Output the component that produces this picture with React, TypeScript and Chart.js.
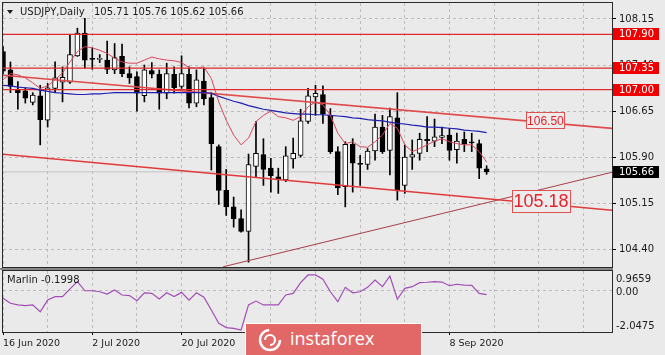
import React, { useEffect, useRef } from 'react';
import { Chart, registerables } from 'chart.js';

Chart.register(...registerables);

// ---------- data ----------
const opens = [107.62,107.32,107.00,106.98,106.79,106.90,106.50,107.02,107.12,107.12,107.55,107.92,107.51,107.49,107.48,107.32,107.54,107.26,107.21,106.90,107.31,107.25,106.94,107.25,107.05,107.25,106.78,107.14,106.87,106.07,105.36,105.09,104.90,104.69,105.75,105.94,105.72,105.58,105.53,105.87,105.93,106.48,106.88,106.92,106.58,105.99,105.42,106.11,105.80,105.78,106.00,106.39,106.01,106.54,105.44,105.90,105.96,106.19,106.16,106.22,106.26,106.02,106.19,106.15,106.12,105.71];
const highs = [107.70,107.45,107.13,107.03,106.95,107.07,107.10,107.45,107.37,107.89,108.00,108.16,107.68,107.57,107.79,107.75,107.74,107.37,107.29,107.40,107.44,107.32,107.43,107.37,107.55,107.37,107.32,107.35,106.95,106.10,105.70,105.25,105.04,105.95,106.48,106.20,105.88,105.72,106.07,106.21,106.68,107.02,107.07,107.06,106.69,106.07,106.15,106.20,105.93,106.04,106.60,106.58,106.70,106.95,106.10,106.18,106.29,106.56,106.52,106.39,106.37,106.29,106.31,106.29,106.18,105.76];
const lows = [107.25,106.95,106.68,106.78,106.75,106.10,106.39,106.95,106.80,107.10,107.54,107.35,107.33,107.44,107.26,107.26,107.21,107.10,106.65,106.80,107.19,106.68,106.85,106.94,107.02,106.70,106.72,106.75,105.69,105.13,104.95,104.76,104.68,104.19,105.58,105.44,105.33,105.31,105.50,105.72,105.90,106.45,106.58,106.45,105.96,105.29,105.09,105.33,105.44,105.70,105.85,105.96,105.61,105.20,105.31,105.70,105.85,105.99,106.07,106.12,105.85,105.80,105.99,105.99,105.55,105.62];
const closes = [107.30,107.05,106.95,106.86,106.91,106.51,107.03,107.19,107.20,107.57,107.92,107.48,107.49,107.51,107.33,107.52,107.26,107.19,106.94,107.32,107.25,106.94,107.26,107.03,107.26,106.78,107.16,106.85,106.12,105.36,105.09,104.90,104.69,105.78,105.96,105.70,105.60,105.54,105.92,105.96,106.49,106.90,106.94,106.60,105.99,105.40,106.11,105.80,105.78,106.00,106.39,105.99,106.56,105.35,105.90,105.94,106.19,106.17,106.23,106.25,106.01,106.16,106.11,106.13,105.72,105.66];

const maFast = [107.16,107.26,107.24,107.19,107.11,107.02,107.06,107.16,107.27,107.45,107.62,107.70,107.68,107.64,107.59,107.51,107.45,107.43,107.43,107.48,107.53,107.50,107.48,107.47,107.44,107.36,107.35,107.37,107.18,106.80,106.50,106.26,106.10,106.21,106.48,106.58,106.65,106.56,106.54,106.50,106.56,106.72,106.80,106.75,106.58,106.29,106.12,106.15,106.07,106.06,106.15,106.26,106.45,106.37,106.10,105.99,106.04,106.10,106.16,106.20,106.15,106.12,106.10,106.10,105.99,105.82];
const maSlow = [107.07,107.06,107.04,107.03,107.02,106.99,106.97,106.95,106.94,106.93,106.92,106.92,106.93,106.93,106.94,106.95,106.95,106.95,106.95,106.95,106.95,106.95,106.95,106.95,106.95,106.95,106.95,106.95,106.94,106.89,106.85,106.81,106.78,106.74,106.71,106.68,106.66,106.64,106.62,106.61,106.60,106.60,106.59,106.59,106.58,106.57,106.56,106.54,106.53,106.51,106.50,106.49,106.47,106.45,106.44,106.42,106.41,106.39,106.39,106.38,106.37,106.36,106.34,106.33,106.32,106.30];

const marlin = [-0.38,-0.63,-0.71,-0.74,-0.71,-1.05,-0.47,-0.30,-0.30,0.08,0.44,-0.01,-0.01,-0.06,-0.17,0.03,-0.22,-0.25,-0.50,-0.11,-0.14,-0.42,-0.11,-0.30,-0.09,-0.47,-0.11,-0.33,-0.96,-1.62,-1.83,-1.87,-1.95,-0.71,-0.52,-0.71,-0.71,-0.71,-0.22,-0.14,0.39,0.77,0.77,0.56,-0.06,-0.55,0.16,-0.11,-0.06,0.16,0.52,0.19,0.72,-0.43,0.11,0.19,0.39,0.41,0.44,0.42,0.24,0.31,0.27,0.26,-0.14,-0.1998];
const marlinValue = -0.1998;
const marlinMax = 0.9659;
const marlinMin = -2.0475;

const levels = [107.90, 107.35, 107.00];
const bidPrice = 105.66;
const priceTicks = [108.15, 107.40, 106.65, 105.90, 105.15, 104.40];
const priceMin = 104.111;
const priceMax = 108.41;

const gridIndex = [0, 6, 12, 18, 24, 30, 36, 42, 48, 54, 60, 66, 72, 78];
const dateTickIndex = [0, 12, 24, 36, 48, 60];
const dateTickLabels = ['16 Jun 2020', '2 Jul 2020', '20 Jul 2020', '5 Aug 2020', '21 Aug 2020', '8 Sep 2020'];
const X_MAX = 81.85;

const trendUpper = [{ x: 0, y: 107.233 }, { x: X_MAX, y: 106.368 }];
const trendLower = [{ x: 0, y: 105.947 }, { x: X_MAX, y: 105.034 }];
const trendRising = [{ x: 29.6, y: 104.116 }, { x: X_MAX, y: 105.655 }];

const noteUpperPrice = 106.50;
const noteUpperIndex = 72.9;
const noteCrossPrice = 105.18;
const noteCrossIndex = 72.3;

const symbolTitle = 'USDJPY,Daily';
const ohlcTitle = '105.71 105.76 105.62 105.66';

// ---------- styles ----------
const BG = '#eaeaea';
const GRID = '#bdbdbd';
const FRAME = '#2a2a2a';
const TEXT = '#1a1a1a';
const FONT = '"DejaVu Sans", sans-serif';

const mainDecor = {
  id: 'mainDecor',
  beforeDraw(chart: any) {
    const { ctx, width, height } = chart;
    ctx.save();
    ctx.fillStyle = BG;
    ctx.fillRect(0, 0, width, height);
    ctx.restore();
  },
  afterDraw(chart: any) {
    const { ctx, chartArea: a } = chart;
    const xs = chart.scales.x;
    const ys = chart.scales.y;
    ctx.save();
    ctx.strokeStyle = FRAME;
    ctx.lineWidth = 1;
    ctx.strokeRect(a.left - 0.5, a.top - 0.5, a.right - a.left + 1, a.bottom - a.top + 1);
    ctx.fillStyle = TEXT;
    ctx.beginPath();
    ctx.moveTo(7, 10);
    ctx.lineTo(13, 10);
    ctx.lineTo(10, 14);
    ctx.closePath();
    ctx.fill();
    ctx.font = '10px ' + FONT;
    ctx.textBaseline = 'middle';
    ctx.textAlign = 'left';
    ctx.fillText(symbolTitle, 20, 12);
    ctx.fillText(ohlcTitle, 94, 12);
    levels.forEach((v) => {
      const yy = Math.round(ys.getPixelForValue(v));
      ctx.fillStyle = '#f00000';
      ctx.fillRect(a.right + 1, yy - 6, 46, 12);
      ctx.fillStyle = '#ffffff';
      ctx.fillText(v.toFixed(2), a.right + 7, yy);
    });
    const by = Math.round(ys.getPixelForValue(bidPrice));
    ctx.fillStyle = '#000000';
    ctx.fillRect(a.right + 1, by - 6, 46, 12);
    ctx.fillStyle = '#ffffff';
    ctx.fillText(bidPrice.toFixed(2), a.right + 7, by);
    const box = (cx: number, cy: number, w: number, h: number, text: string, font: string) => {
      ctx.fillStyle = '#ececec';
      ctx.fillRect(Math.round(cx - w / 2), Math.round(cy - h / 2), w, h);
      ctx.strokeStyle = '#e05252';
      ctx.lineWidth = 1;
      ctx.strokeRect(Math.round(cx - w / 2) + 0.5, Math.round(cy - h / 2) + 0.5, w, h);
      ctx.fillStyle = '#e8202a';
      ctx.font = font;
      ctx.textAlign = 'center';
      ctx.textBaseline = 'middle';
      ctx.fillText(text, cx, cy + 1);
    };
    box(xs.getPixelForValue(noteUpperIndex), ys.getPixelForValue(noteUpperPrice), 38, 16,
      noteUpperPrice.toFixed(2), '12px "Liberation Sans", sans-serif');
    box(xs.getPixelForValue(noteCrossIndex), ys.getPixelForValue(noteCrossPrice), 58, 22,
      noteCrossPrice.toFixed(2), '18px "Liberation Sans", sans-serif');
    ctx.restore();
  },
};

const subDecor = {
  id: 'subDecor',
  beforeDraw(chart: any) {
    const { ctx, width, height } = chart;
    ctx.save();
    ctx.fillStyle = BG;
    ctx.fillRect(0, 0, width, height);
    ctx.fillStyle = '#858585';
    ctx.fillRect(0, 0, 613, 2);
    ctx.restore();
  },
  afterDraw(chart: any) {
    const { ctx, chartArea: a } = chart;
    const ys = chart.scales.y;
    ctx.save();
    ctx.strokeStyle = FRAME;
    ctx.lineWidth = 1;
    ctx.strokeRect(a.left - 0.5, a.top - 0.5, a.right - a.left + 1, a.bottom - a.top + 1);
    ctx.fillStyle = TEXT;
    ctx.font = '10px ' + FONT;
    ctx.textAlign = 'left';
    ctx.textBaseline = 'middle';
    ctx.fillText(marlinMax.toFixed(4), a.right + 4, a.top + 8);
    ctx.fillText((0).toFixed(2), a.right + 4, ys.getPixelForValue(0) + 1.5);
    ctx.fillText(marlinMin.toFixed(4), a.right + 4, a.bottom - 6);
    ctx.fillText('Marlin ' + marlinValue.toFixed(4), a.left + 4, a.top + 9);
    ctx.restore();
  },
};

const lineDs = (data: any[], color: string, width: number, order = 0) => ({
  type: 'line',
  data,
  borderColor: color,
  borderWidth: width,
  pointRadius: 0,
  tension: 0,
  fill: false,
  order,
});

export default function App() {
  const mainRef = useRef<HTMLCanvasElement>(null);
  const subRef = useRef<HTMLCanvasElement>(null);

  useEffect(() => {
    const main = new Chart(mainRef.current as HTMLCanvasElement, {
      type: 'bar',
      data: {
        datasets: [
          lineDs(maFast.map((v, i) => ({ x: i, y: v })), '#d8485c', 1),
          lineDs(maSlow.map((v, i) => ({ x: i, y: v })), '#1f1fb0', 1.2),
          ...levels.map((v) => lineDs([{ x: 0, y: v }, { x: X_MAX, y: v }], '#e02a2e', 1.2)),
          lineDs([{ x: 0, y: bidPrice }, { x: X_MAX, y: bidPrice }], '#c2c2c2', 1, 3),
          lineDs(trendUpper, '#e04a4a', 1.6),
          lineDs(trendLower, '#e03a3a', 1.4),
          lineDs(trendRising, '#a8434c', 1.1),
          {
            type: 'bar',
            data: opens.map((o, i) => ({ x: i, y: [o, closes[i]] })),
            backgroundColor: opens.map((o, i) => (closes[i] >= o ? '#ffffff' : '#000000')),
            borderColor: '#000000',
            borderWidth: 1,
            borderSkipped: false,
            barThickness: 5,
            grouped: false,
            minBarLength: 1,
            order: 1,
          },
          {
            type: 'bar',
            data: lows.map((l, i) => ({ x: i, y: [l, highs[i]] })),
            backgroundColor: '#000000',
            borderWidth: 0,
            barThickness: 1,
            grouped: false,
            order: 2,
          },
        ] as any,
      },
      options: {
        responsive: false,
        animation: false,
        events: [],
        plugins: { legend: { display: false }, tooltip: { enabled: false } },
        layout: { padding: { left: 3, top: 3, right: 0, bottom: 1 } },
        scales: {
          x: {
            type: 'linear',
            min: 0,
            max: X_MAX,
            offset: false,
            grid: { color: GRID, lineWidth: 1, drawTicks: false, offset: false },
            border: { display: false, dash: [3, 3] },
            ticks: { display: false },
            afterBuildTicks: (s: any) => { s.ticks = gridIndex.map((v) => ({ value: v })); },
            afterFit: (s: any) => { s.height = 0; s.paddingLeft = 0; s.paddingRight = 0; },
          },
          y: {
            type: 'linear',
            position: 'right',
            min: priceMin,
            max: priceMax,
            grid: { color: GRID, lineWidth: 1, tickColor: '#000000', tickLength: 4, tickBorderDash: [] },
            border: { display: false, dash: [3, 3] },
            ticks: {
              padding: 3,
              color: TEXT,
              font: { family: 'DejaVu Sans', size: 10 },
              callback: (v: any) => Number(v).toFixed(2),
            },
            afterBuildTicks: (s: any) => { s.ticks = priceTicks.map((v) => ({ value: v })); },
            afterFit: (s: any) => { s.width = 53; s.paddingTop = 0; s.paddingBottom = 0; },
          },
        },
      } as any,
      plugins: [mainDecor],
    });

    const sub = new Chart(subRef.current as HTMLCanvasElement, {
      type: 'line',
      data: {
        datasets: [
          {
            data: marlin.map((v, i) => ({ x: i, y: v })),
            borderColor: '#a24db6',
            borderWidth: 1.2,
            pointRadius: 0,
            tension: 0,
            fill: false,
          },
        ],
      },
      options: {
        responsive: false,
        animation: false,
        events: [],
        plugins: { legend: { display: false }, tooltip: { enabled: false } },
        layout: { padding: { left: 3, top: 3, right: 0, bottom: 0 } },
        scales: {
          x: {
            type: 'linear',
            min: 0,
            max: X_MAX,
            offset: false,
            grid: {
              color: GRID,
              lineWidth: 1,
              tickLength: 3,
              tickBorderDash: [],
              tickColor: (c: any) => (c.tick && dateTickIndex.includes(c.tick.value) ? '#000000' : 'rgba(0,0,0,0)'),
            },
            border: { display: false, dash: [3, 3] },
            ticks: {
              autoSkip: false,
              maxRotation: 0,
              minRotation: 0,
              align: 'start',
              padding: 3,
              color: TEXT,
              font: { family: 'DejaVu Sans', size: 9.5 },
              callback: (v: any) => {
                const k = dateTickIndex.indexOf(Number(v));
                return k >= 0 ? dateTickLabels[k] : '';
              },
            },
            afterBuildTicks: (s: any) => { s.ticks = gridIndex.map((v) => ({ value: v })); },
            afterFit: (s: any) => { s.height = 23; s.paddingLeft = 0; s.paddingRight = 0; },
          },
          y: {
            type: 'linear',
            position: 'right',
            min: marlinMin,
            max: marlinMax,
            grid: { color: GRID, lineWidth: 1, drawTicks: false },
            border: { display: false, dash: [3, 3] },
            ticks: { display: false },
            afterBuildTicks: (s: any) => { s.ticks = [{ value: 0 }]; },
            afterFit: (s: any) => { s.width = 53; s.paddingTop = 0; s.paddingBottom = 0; },
          },
        },
      } as any,
      plugins: [subDecor],
    });

    return () => {
      main.destroy();
      sub.destroy();
    };
  }, []);

  return (
    <div style={{ position: 'absolute', left: 0, top: 0, width: 665, height: 355, background: BG, overflow: 'hidden' }}>
      <canvas ref={mainRef} width={665} height={268} style={{ position: 'absolute', left: 0, top: 0 }} />
      <canvas ref={subRef} width={665} height={87} style={{ position: 'absolute', left: 0, top: 268 }} />
      <div
        style={{
          position: 'absolute',
          left: 245,
          top: 323,
          width: 177,
          height: 34,
          background: '#e26868',
          border: '1px solid #ffffff',
          boxSizing: 'border-box',
        }}
      >
        <svg width="26" height="26" viewBox="0 0 26 26" style={{ position: 'absolute', left: 11, top: 3 }}>
          <circle cx="13" cy="13" r="10" fill="none" stroke="#ffffff" strokeWidth="2.5" strokeDasharray="46 17" />
          <path d="M8 13 a5 5 0 1 1 5 5" fill="none" stroke="#ffffff" strokeWidth="2.2" />
        </svg>
        <div
          style={{
            position: 'absolute',
            left: 44,
            top: 2,
            color: '#ffffff',
            fontFamily: '"Open Sans", sans-serif',
            fontSize: 18,
            lineHeight: '24px',
            whiteSpace: 'nowrap',
          }}
        >
          instaforex
        </div>
      </div>
    </div>
  );
}
